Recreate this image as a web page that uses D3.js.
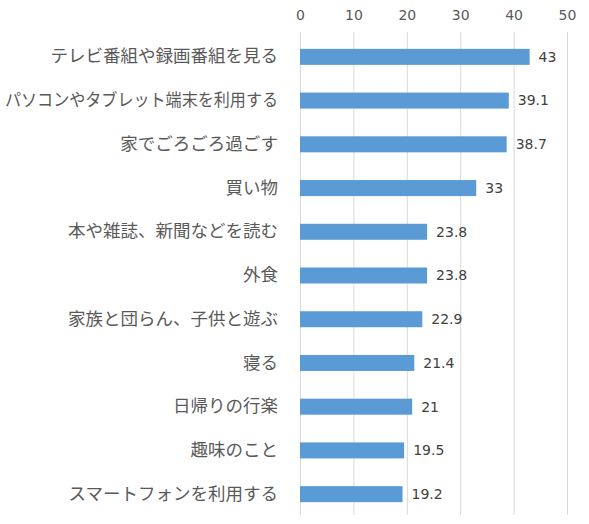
<!DOCTYPE html>
<html>
<head>
<meta charset="utf-8">
<script src="https://cdn.jsdelivr.net/npm/d3@7"></script>
<style>
  body { margin: 0; background: #fff; }
  text { font-family: "Noto Sans CJK JP", "Noto Sans", sans-serif; }
</style>
</head>
<body>
<div id="chart"></div>
<script>

// categories, top to bottom
var categories = [
	"テレビ番組や録画番組を見る",
	"パソコンやタブレット端末を利用する",
	"家でごろごろ過ごす",
	"買い物",
	"本や雑誌、新聞などを読む",
	"外食",
	"家族と団らん、子供と遊ぶ",
	"寝る",
	"日帰りの行楽",
	"趣味のこと",
	"スマートフォンを利用する"
];
var values = [43, 39.1, 38.7, 33, 23.8, 23.8, 22.9, 21.4, 21, 19.5, 19.2];
var ticks = [0, 10, 20, 30, 40, 50];

var W = 589, H = 524;
var margin = {top:35, right:22, bottom:8, left:300},
    width = W - margin.left - margin.right,
    height = H - margin.top - margin.bottom;

var x = d3.scaleLinear().domain([0, 50]).range([0, width]);
var y = d3.scaleBand().domain(categories).range([0, height])
	.paddingInner(0.634).paddingOuter(0.317);

var svg = d3.select("#chart").append("svg")
	.attr("width", W)
	.attr("height", H);
var chart = svg.append("g")
	.attr("transform", "translate("+margin.left+","+margin.top+")");

// gridlines
chart.append("g").selectAll("line").data(ticks).enter().append("line")
	.attr("x1", function(d){ return x(d)+0.5; })
	.attr("x2", function(d){ return x(d)+0.5; })
	.attr("y1", -3)
	.attr("y2", height-1)
	.style("stroke", "#d9d9d9")
	.style("stroke-width", 1);

// top axis
var xAxis = chart.append("g")
	.call(d3.axisTop(x).tickValues(ticks).tickSize(0).tickPadding(15));
xAxis.select(".domain").remove();
xAxis.selectAll("text")
	.style("font-size", "14px")
	.style("fill", "#595959")
	.style("font-family", "'DejaVu Sans', sans-serif");

// category labels
var yAxis = chart.append("g")
	.call(d3.axisLeft(y).tickSize(0).tickPadding(22));
yAxis.select(".domain").remove();
yAxis.selectAll("text")
	.style("font-size", "17.5px")
	.style("fill", "#595959")
	.each(function(){
		// squeeze the longest label so it stays inside the window
		var maxW = margin.left - 22 - 5;
		if(this.getComputedTextLength() > maxW){
			d3.select(this)
				.attr("textLength", maxW)
				.attr("lengthAdjust", "spacingAndGlyphs");
		}
	});

// bars
var rows = categories.map(function(c, i){ return {name:c, value:values[i]}; });
chart.append("g").selectAll("rect").data(rows).enter().append("rect")
	.attr("x", x(0))
	.attr("y", function(d){ return y(d.name); })
	.attr("width", function(d){ return x(d.value) - x(0); })
	.attr("height", y.bandwidth())
	.style("fill", "#5b9bd5");

// value labels
chart.append("g").selectAll("text").data(rows).enter().append("text")
	.attr("x", function(d){ return x(d.value) + 9; })
	.attr("y", function(d){ return y(d.name) + y.bandwidth()/2; })
	.attr("dy", "0.35em")
	.style("font-size", "14px")
	.style("fill", "#404040")
	.style("font-family", "'DejaVu Sans', sans-serif")
	.text(function(d){ return d.value; });

</script>
</body>
</html>
